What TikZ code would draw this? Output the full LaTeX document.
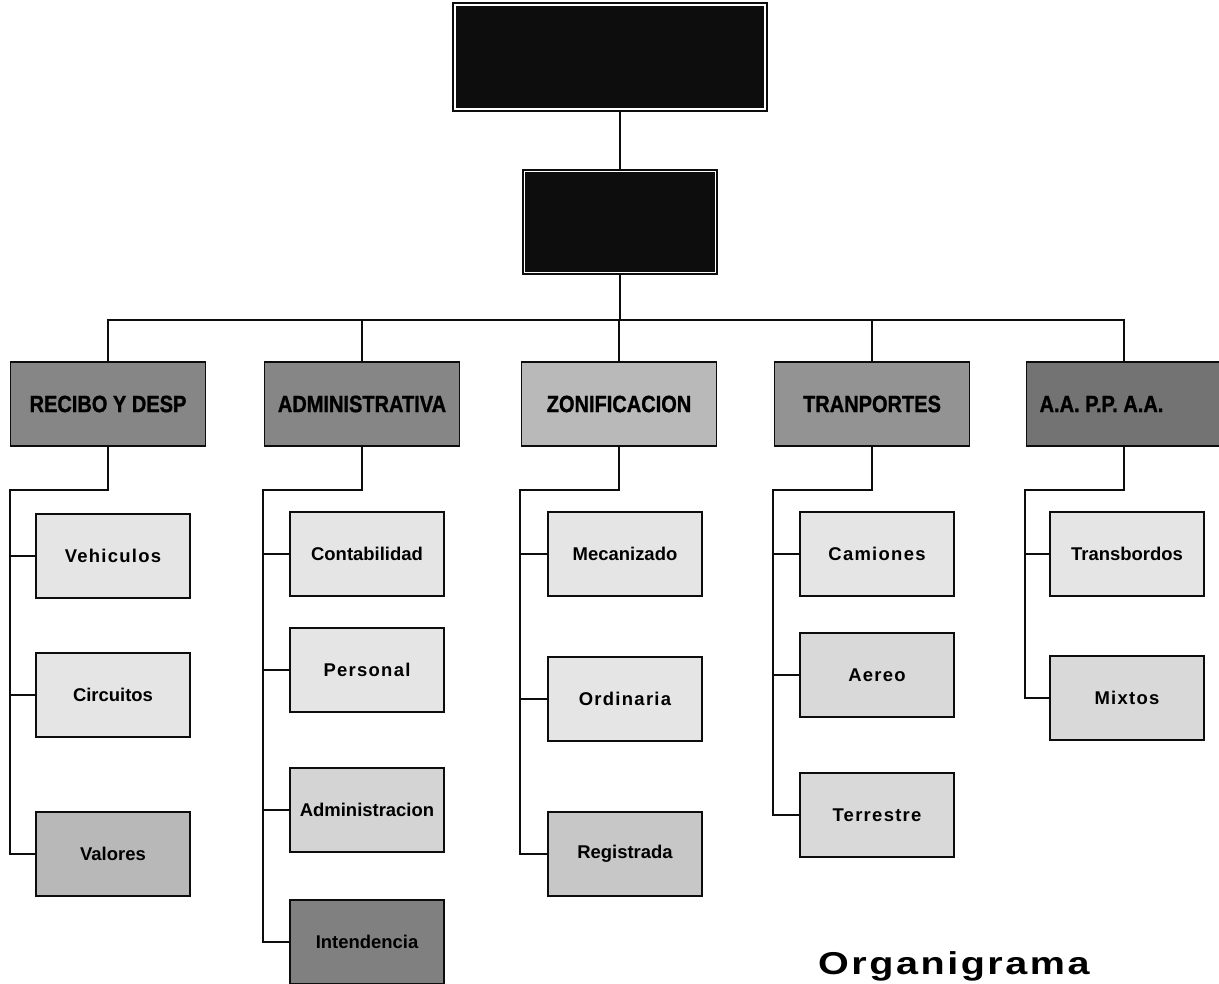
\documentclass[tikz,border=0pt]{standalone}
\usepackage{fontspec}
\setmainfont{Liberation Sans}
\newfontfamily\headfont[FakeStretch=0.85, FakeBold=1.2]{Liberation Sans}
\newfontfamily\spacedfont[LetterSpace=7]{Liberation Sans}
\newfontfamily\titlefont[FakeStretch=1.25, LetterSpace=8]{Liberation Sans}
\definecolor{orgInk}{gray}{0.05}
\definecolor{orgShade}{gray}{0.5}
\definecolor{orgLight}{gray}{0.9}

\begin{document}
\begin{tikzpicture}[x=0.02cm, y=-0.02cm,
    chief/.style={draw=orgInk, line width=0.9pt, double=white, double distance=1.1pt, fill=orgInk},
    unit/.style={draw=orgInk, line width=1pt, minimum width=3.9cm, minimum height=1.68cm,
    font=\headfont\bfseries\fontsize{13.4}{15}\selectfont},
    task/.style={draw=orgInk, line width=1pt, fill=orgLight, minimum width=3.08cm, minimum height=1.68cm,
    font=\bfseries\fontsize{10.5}{12}\selectfont},
    link/.style={draw=orgInk, line width=0.7pt}
  ]
  \useasboundingbox (0,0) rectangle (1219,983);

  \node[chief, minimum width=6.2cm, minimum height=2.08cm] (director) at (610,57) {};
  \node[chief, minimum width=3.82cm, minimum height=2.02cm] (subdir) at (620,222) {};

  \node[unit, fill=orgShade!95] (recibo) at (108,404) {RECIBO Y DESP};
  \node[unit, fill=orgShade!95] (admin) at (362,404) {ADMINISTRATIVA};
  \node[unit, fill=orgShade!55] (zonif) at (619,404) {ZONIFICACION};
  \node[unit, fill=orgShade!85] (transp) at (872,404) {TRANPORTES};
  \node[unit, fill=orgShade!110] (aapp) at (1124,404) {A.A.\ P.P.\ A.A.\hspace*{0.9cm}};

  % recibo y despacho
  \node[task] (vehiculos) at (113,556) {\spacedfont\bfseries Vehiculos};
  \node[task] (circuitos) at (113,695) {Circuitos};
  \node[task, fill=black!28] (valores) at (113,854) {Valores};
  % administrativa
  \node[task] (contab) at (367,554) {Contabilidad};
  \node[task] (personal) at (367,670) {\spacedfont\bfseries Personal};
  \node[task, fill=black!17] (adminis) at (367,810) {Administracion};
  \node[task, fill=black!50] (intend) at (367,942) {Intendencia};
  % zonificacion
  \node[task] (mecan) at (625,554) {Mecanizado};
  \node[task] (ordin) at (625,699) {\spacedfont\bfseries Ordinaria};
  \node[task, fill=black!22] (registr) at (625,854) {Registrada};
  % transportes
  \node[task] (camiones) at (877,554) {\spacedfont\bfseries Camiones};
  \node[task, fill=black!15] (aereo) at (877,675) {\spacedfont\bfseries Aereo};
  \node[task, fill=black!15] (terrestre) at (877,815) {\spacedfont\bfseries Terrestre};
  % a.a. p.p. a.a.
  \node[task] (transb) at (1127,554) {Transbordos};
  \node[task, fill=black!15] (mixtos) at (1127,698) {\spacedfont\bfseries Mixtos};

  \node[anchor=base west, font=\titlefont\bfseries\fontsize{18}{20}\selectfont] (titulo) at (812,974) {Organigrama};

  \coordinate (bus) at (620,320);
  \coordinate (s1) at (10,490);
  \coordinate (s2) at (263,490);
  \coordinate (s3) at (520,490);
  \coordinate (s4) at (773,490);
  \coordinate (s5) at (1025,490);

  \draw[link] (subdir.north) -- (subdir.north |- director.south);
  \draw[link] (subdir.south) -- (bus);
  \draw[link] (recibo.north) |- (bus) -| (aapp.north);
  \foreach \u in {admin, zonif, transp}
    \draw[link] (\u.north) -- (\u.north |- bus);

  \draw[link] (recibo.south) |- (s1) |- (valores.west);
  \draw[link] (admin.south) |- (s2) |- (intend.west);
  \draw[link] (zonif.south) |- (s3) |- (registr.west);
  \draw[link] (transp.south) |- (s4) |- (terrestre.west);
  \draw[link] (aapp.south) |- (s5) |- (mixtos.west);
  \foreach \s/\t in {s1/vehiculos, s1/circuitos, s2/contab, s2/personal, s2/adminis,
                     s3/mecan, s3/ordin, s4/camiones, s4/aereo, s5/transb}
    \draw[link] (\s |- \t.west) -- (\t.west);
\end{tikzpicture}
\end{document}
